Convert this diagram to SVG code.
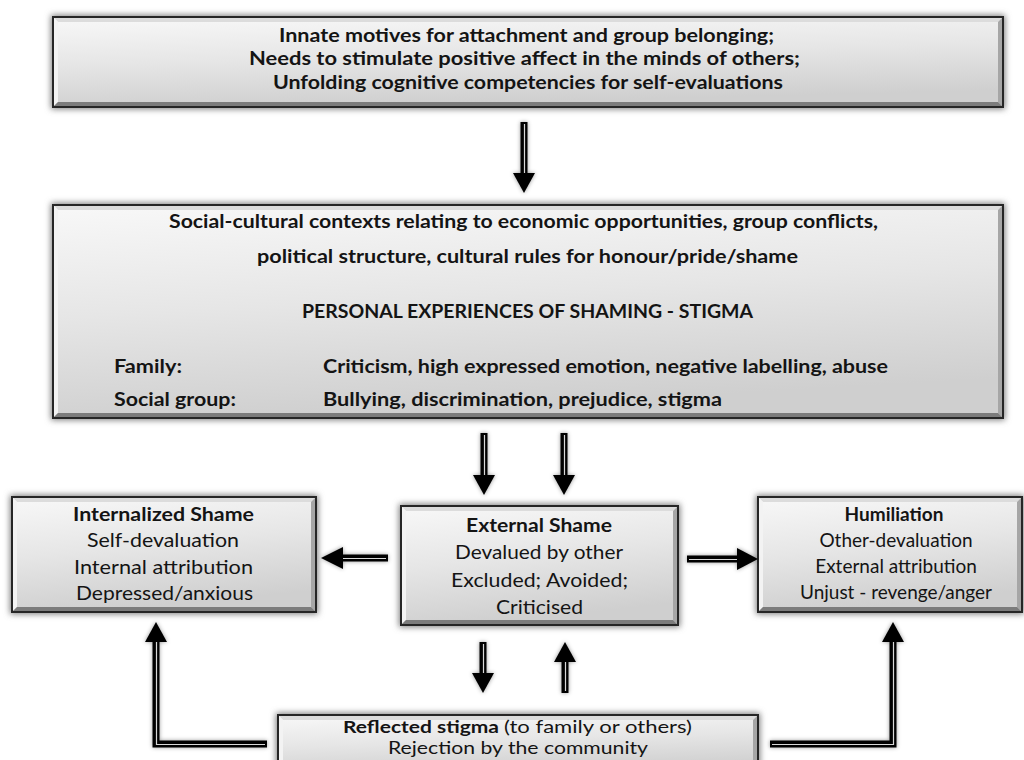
<svg xmlns="http://www.w3.org/2000/svg" width="1024" height="760" viewBox="0 0 1024 760">
  <defs>
    <style>
      text { font-family: "Lato", "Liberation Sans", sans-serif; fill: #141414; font-size: 19px; }
      .b { font-weight: 700; }
      .r { font-weight: 400; }
      .c { text-anchor: middle; }
      .s { font-size: 17px; }
      .shadow { fill: #7a7a7a; filter: url(#soft); }
      .face { fill: url(#faceGrad); }
      .bt { fill: #dcdcdc; }
      .bl { fill: #f3f3f3; }
      .br { fill: #a6a6a6; }
      .bb { fill: #7c7c7c; }
      .edge { fill: none; stroke: #262626; stroke-width: 2; }
      .shaft { fill: none; stroke: #000; stroke-width: 7; stroke-linejoin: miter; }
      .core { fill: none; stroke: #d8d8d8; stroke-width: 1.2; stroke-linejoin: miter; }
      .head { fill: #000; }
    </style>
    <linearGradient id="faceGrad" x1="0" y1="0" x2="0.25" y2="1">
      <stop offset="0" stop-color="#f8f8f8"/>
      <stop offset="0.5" stop-color="#e6e6e6"/>
      <stop offset="1" stop-color="#cfcfcf"/>
    </linearGradient>
    <filter id="soft" x="-10%" y="-20%" width="120%" height="140%">
      <feGaussianBlur stdDeviation="3"/>
    </filter>
    <filter id="glow" x="-20%" y="-20%" width="140%" height="140%">
      <feGaussianBlur in="SourceAlpha" stdDeviation="2" result="b"/>
      <feFlood flood-color="#000" flood-opacity="0.4"/>
      <feComposite in2="b" operator="in" result="s"/>
      <feMerge><feMergeNode in="s"/><feMergeNode in="SourceGraphic"/></feMerge>
    </filter>
  </defs>

  <rect width="1024" height="760" fill="#fff"/>

  <!-- Motives box -->
  <g id="motives">
    <rect class="shadow" x="51" y="15" width="954" height="94"/>
    <rect class="face" x="53" y="17" width="950" height="90"/>
    <polygon class="bt" points="53,17 1003,17 998,22 58,22"/>
    <polygon class="bl" points="53,17 58,22 58,102 53,107"/>
    <polygon class="br" points="1003,17 1003,107 998,102 998,22"/>
    <polygon class="bb" points="53,107 1003,107 998,102 58,102"/>
    <rect class="edge" x="53" y="17" width="950" height="90"/>
    <text class="b" x="279" y="42" textLength="495" lengthAdjust="spacingAndGlyphs">Innate motives for attachment and group belonging;</text>
    <text class="b" x="249" y="65" textLength="551" lengthAdjust="spacingAndGlyphs">Needs to stimulate positive affect in the minds of others;</text>
    <text class="b" x="273" y="89" textLength="510" lengthAdjust="spacingAndGlyphs">Unfolding cognitive competencies for self-evaluations</text>
  </g>

  <!-- Contexts and personal experiences box -->
  <g id="contexts">
    <rect class="shadow" x="51" y="203" width="954" height="217"/>
    <rect class="face" x="53" y="205" width="950" height="213"/>
    <polygon class="bt" points="53,205 1003,205 998,210 58,210"/>
    <polygon class="bl" points="53,205 58,210 58,413 53,418"/>
    <polygon class="br" points="1003,205 1003,418 998,413 998,210"/>
    <polygon class="bb" points="53,418 1003,418 998,413 58,413"/>
    <rect class="edge" x="53" y="205" width="950" height="213"/>
    <text class="b" x="169" y="228" textLength="709" lengthAdjust="spacingAndGlyphs">Social-cultural contexts relating to economic opportunities, group conflicts,</text>
    <text class="b" x="257" y="263" textLength="541" lengthAdjust="spacingAndGlyphs">political structure, cultural rules for honour/pride/shame</text>
    <text class="b" x="302" y="318" textLength="451" lengthAdjust="spacingAndGlyphs">PERSONAL EXPERIENCES OF SHAMING - STIGMA</text>
    <text class="b" x="114" y="373" textLength="68" lengthAdjust="spacingAndGlyphs">Family:</text>
    <text class="b" x="323" y="373" textLength="565" lengthAdjust="spacingAndGlyphs">Criticism, high expressed emotion, negative labelling, abuse</text>
    <text class="b" x="114" y="406" textLength="122" lengthAdjust="spacingAndGlyphs">Social group:</text>
    <text class="b" x="323" y="406" textLength="399" lengthAdjust="spacingAndGlyphs">Bullying, discrimination, prejudice, stigma</text>
  </g>

  <!-- Internalized shame box -->
  <g id="internalized">
    <rect class="shadow" x="10" y="495" width="308" height="119"/>
    <rect class="face" x="12" y="497" width="304" height="115"/>
    <polygon class="bt" points="12,497 316,497 311,502 17,502"/>
    <polygon class="bl" points="12,497 17,502 17,607 12,612"/>
    <polygon class="br" points="316,497 316,612 311,607 311,502"/>
    <polygon class="bb" points="12,612 316,612 311,607 17,607"/>
    <rect class="edge" x="12" y="497" width="304" height="115"/>
    <text class="b" x="73" y="521" textLength="181" lengthAdjust="spacingAndGlyphs">Internalized Shame</text>
    <text class="r" x="87" y="547" textLength="152" lengthAdjust="spacingAndGlyphs">Self-devaluation</text>
    <text class="r" x="74" y="574" textLength="179" lengthAdjust="spacingAndGlyphs">Internal attribution</text>
    <text class="r" x="76" y="600" textLength="177" lengthAdjust="spacingAndGlyphs">Depressed/anxious</text>
  </g>

  <!-- External shame box -->
  <g id="external">
    <rect class="shadow" x="399" y="504" width="281" height="123"/>
    <rect class="face" x="401" y="506" width="277" height="119"/>
    <polygon class="bt" points="401,506 678,506 673,511 406,511"/>
    <polygon class="bl" points="401,506 406,511 406,620 401,625"/>
    <polygon class="br" points="678,506 678,625 673,620 673,511"/>
    <polygon class="bb" points="401,625 678,625 673,620 406,620"/>
    <rect class="edge" x="401" y="506" width="277" height="119"/>
    <text class="b" x="466" y="532" textLength="146" lengthAdjust="spacingAndGlyphs">External Shame</text>
    <text class="r" x="455" y="559" textLength="168" lengthAdjust="spacingAndGlyphs">Devalued by other</text>
    <text class="r" x="451" y="587" textLength="177" lengthAdjust="spacingAndGlyphs">Excluded; Avoided;</text>
    <text class="r" x="496" y="614" textLength="87" lengthAdjust="spacingAndGlyphs">Criticised</text>
  </g>

  <!-- Humiliation box -->
  <g id="humiliation">
    <rect class="shadow" x="756" y="495" width="268" height="119"/>
    <rect class="face" x="758" y="497" width="264" height="115"/>
    <polygon class="bt" points="758,497 1022,497 1017,502 763,502"/>
    <polygon class="bl" points="758,497 763,502 763,607 758,612"/>
    <polygon class="br" points="1022,497 1022,612 1017,607 1017,502"/>
    <polygon class="bb" points="758,612 1022,612 1017,607 763,607"/>
    <rect class="edge" x="758" y="497" width="264" height="115"/>
    <text class="b c" x="894" y="521">Humiliation</text>
    <text class="r c" x="896" y="547">Other-devaluation</text>
    <text class="r c" x="896" y="573">External attribution</text>
    <text class="r c" x="896" y="599">Unjust - revenge/anger</text>
  </g>

  <!-- Reflected stigma box (runs past the lower edge) -->
  <g id="reflected">
    <rect class="shadow" x="276" y="713" width="484" height="64"/>
    <rect class="face" x="278" y="715" width="480" height="60"/>
    <polygon class="bt" points="278,715 758,715 753,720 283,720"/>
    <polygon class="bl" points="278,715 283,720 283,775 278,775"/>
    <polygon class="br" points="758,715 758,775 753,775 753,720"/>
    <rect class="edge" x="278" y="715" width="480" height="60"/>
    <text class="b s" x="343" y="733" textLength="156" lengthAdjust="spacingAndGlyphs">Reflected stigma</text>
    <text class="r s" x="504" y="733" textLength="188" lengthAdjust="spacingAndGlyphs">(to family or others)</text>
    <text class="r s" x="388" y="754" textLength="260" lengthAdjust="spacingAndGlyphs">Rejection by the community</text>
  </g>

  <!-- Connectors -->
  <g id="connectors" filter="url(#glow)">
    <!-- motives to contexts -->
    <path class="shaft" d="M524,122 V174"/>
    <path class="core" d="M524.5,124 V173"/>
    <polygon class="head" points="513,173 535,173 524,193"/>

    <!-- contexts to external shame -->
    <path class="shaft" d="M484,433 V476"/>
    <path class="core" d="M484.5,435 V475"/>
    <polygon class="head" points="473,475 495,475 484,495"/>
    <path class="shaft" d="M564,433 V476"/>
    <path class="core" d="M564.5,435 V475"/>
    <polygon class="head" points="553,475 575,475 564,495"/>

    <!-- external shame to internalized shame -->
    <path class="shaft" d="M388,558 H342"/>
    <path class="core" d="M386,558.5 H343"/>
    <polygon class="head" points="343,547 343,569 321,558"/>

    <!-- external shame to humiliation -->
    <path class="shaft" d="M687,559 H738"/>
    <path class="core" d="M689,559.5 H737"/>
    <polygon class="head" points="737,548 737,570 758,559"/>

    <!-- external shame and reflected stigma -->
    <path class="shaft" d="M483,642 V674"/>
    <path class="core" d="M483.5,644 V673"/>
    <polygon class="head" points="472,673 494,673 483,693"/>
    <path class="shaft" d="M565,693 V661"/>
    <path class="core" d="M565.5,691 V662"/>
    <polygon class="head" points="554,662 576,662 565,642"/>

    <!-- reflected stigma to internalized shame -->
    <path class="shaft" d="M267,744 H156 V641"/>
    <path class="core" d="M265,744.5 H156.5 V642"/>
    <polygon class="head" points="145,642 167,642 156,622"/>

    <!-- reflected stigma to humiliation -->
    <path class="shaft" d="M770,744 H893 V641"/>
    <path class="core" d="M772,744.5 H893.5 V642"/>
    <polygon class="head" points="882,642 904,642 893,622"/>
  </g>
</svg>
